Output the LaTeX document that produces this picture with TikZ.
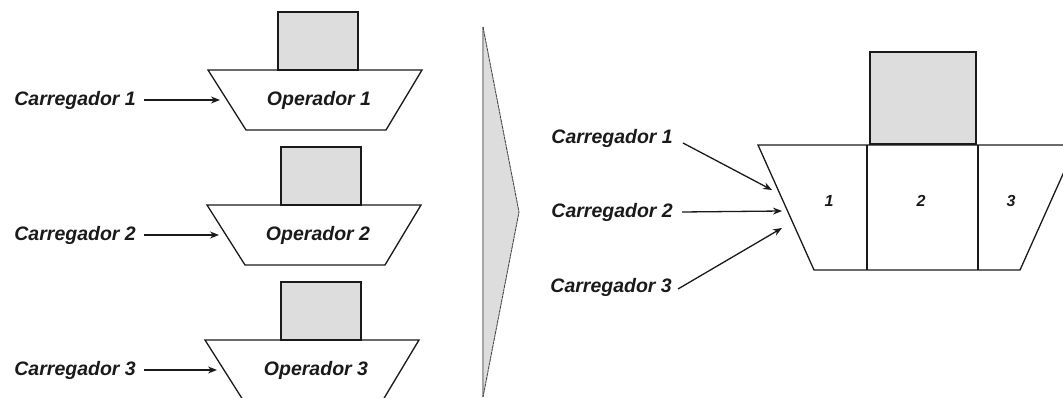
\documentclass[tikz,border=0pt]{standalone}
\usepackage{fontspec}
\setmainfont{Liberation Sans}
\usetikzlibrary{arrows.meta}
\definecolor{boxgray}{HTML}{DDDDDD}
\definecolor{edgegray}{HTML}{A6A6A6}
\definecolor{inkdark}{HTML}{1A1A1A}
\begin{document}
\begin{tikzpicture}[x=1pt,y=-1pt,
  outline/.style={line width=1.3pt, draw=inkdark},
  load/.style={outline, fill=boxgray},
  lbl/.style={font=\fontsize{19.5}{22}\selectfont\bfseries\itshape, inner sep=0pt, text=inkdark},
  num/.style={font=\fontsize{16}{18}\selectfont\bfseries\itshape, inner sep=0pt, text=inkdark},
  feed/.style={line width=1.3pt, draw=inkdark, -{Stealth[length=9pt,width=7pt]}}]
\useasboundingbox (0,0) rectangle (1063,398);

% three separate operators, each fed by its own loader
\foreach \n/\tx/\ty/\sx in {1/208/70/278, 2/207/205/281, 3/205/340/281} {
  \draw[load] (\sx,\ty-58) rectangle (\sx+80,\ty);
  \draw[outline] (\tx,\ty) -- (\tx+214,\ty) -- (\tx+178,\ty+60) -- (\tx+38,\ty+60) -- cycle;
  \node[lbl] (op\n) at (\tx+111,\ty+30) {Operador \n};
  \node[lbl, anchor=east] (car\n) at (136,\ty+30) {Carregador \n};
  \coordinate (in\n) at (\tx+12,\ty+30);
  \draw[feed] ([xshift=8pt]car\n.east) -- (in\n);
}

% transition arrow
\fill[boxgray] (483,27) -- (519,212) -- (483,397) -- cycle;
\draw[edgegray, line width=1.6pt] (483,27) -- (483,397);
\draw[inkdark!80, line width=0.9pt, dash pattern=on 3pt off 0.6pt] (483,27) -- (519,212) -- (483,397);

% combined operator with three positions
\draw[load] (870,52) rectangle (976,144);
\draw[outline] (758,145) -- (1076,145) -- (1020,270) -- (814,270) -- cycle;
\draw[outline] (867,145) -- (867,270);
\draw[outline] (978,145) -- (978,270);
\node[num] (pos1) at (829,201) {1};
\node[num] (pos2) at (921,201) {2};
\node[num] (pos3) at (1011,201) {3};

\node[lbl, anchor=east] (rc1) at (673,138) {Carregador 1};
\node[lbl, anchor=east] (rc2) at (673,212) {Carregador 2};
\node[lbl, anchor=east] (rc3) at (672,287) {Carregador 3};
\coordinate (rin1) at (772,190);
\coordinate (rin2) at (782,211);
\coordinate (rin3) at (782,228);
\draw[feed] ([shift={(10pt,-5pt)}]rc1.east) -- (rin1);
\draw[feed] ([xshift=9pt]rc2.east) -- (rin2);
\draw[feed] ([shift={(6pt,-2pt)}]rc3.east) -- (rin3);
\end{tikzpicture}
\end{document}
